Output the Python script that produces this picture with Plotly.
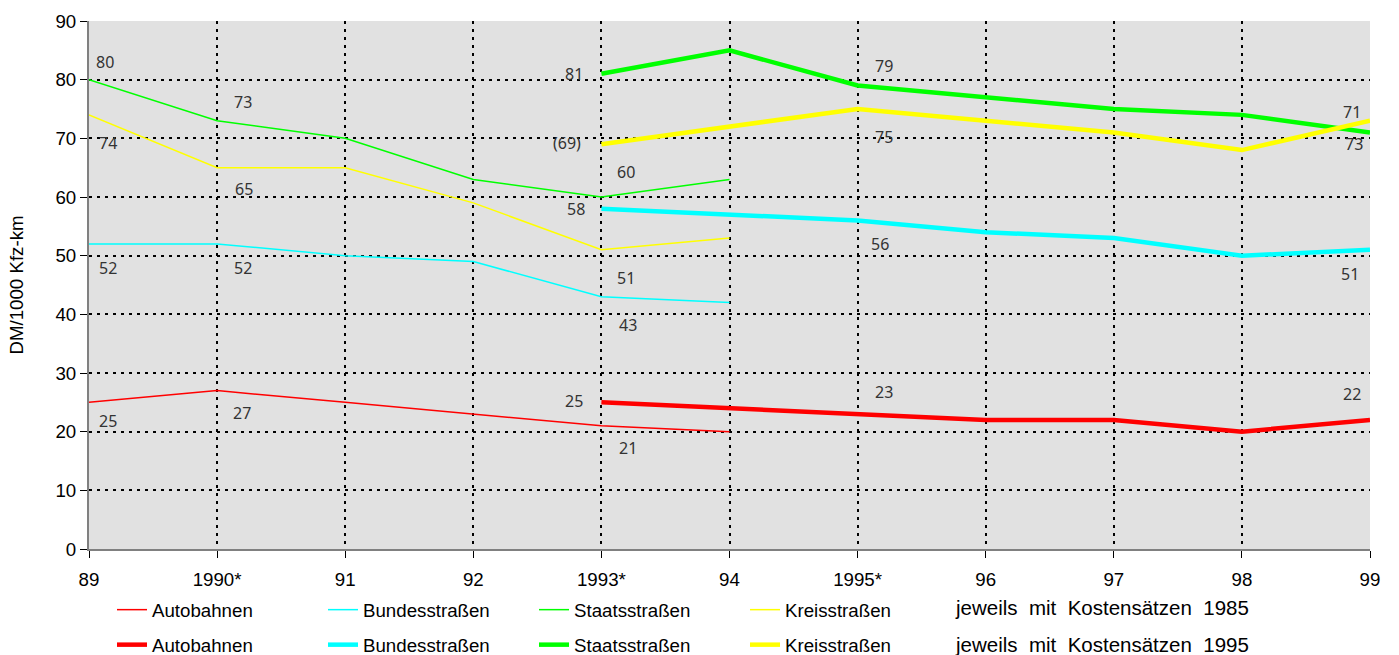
import plotly.graph_objects as go

# Year categories on the x axis
years = ["89", "1990*", "91", "92", "1993*", "94", "1995*", "96", "97", "98", "99"]
years_1985 = years[:6]   # series with cost rates of 1985
years_1995 = years[4:]   # series with cost rates of 1995

# DM per 1000 vehicle-km, cost rates 1985
autobahnen_1985 = [25, 27, 25, 23, 21, 20]
bundesstrassen_1985 = [52, 52, 50, 49, 43, 42]
staatsstrassen_1985 = [80, 73, 70, 63, 60, 63]
kreisstrassen_1985 = [74, 65, 65, 59, 51, 53]

# DM per 1000 vehicle-km, cost rates 1995
autobahnen_1995 = [25, 24, 23, 22, 22, 20, 22]
bundesstrassen_1995 = [58, 57, 56, 54, 53, 50, 51]
staatsstrassen_1995 = [81, 85, 79, 77, 75, 74, 71]
kreisstrassen_1995 = [69, 72, 75, 73, 71, 68, 73]

road_types = ["Autobahnen", "Bundesstraßen", "Staatsstraßen", "Kreisstraßen"]
colors = ["#FF0000", "#00FFFF", "#00FF00", "#FFFF00"]

series_1985 = [autobahnen_1985, bundesstrassen_1985, staatsstrassen_1985, kreisstrassen_1985]
series_1995 = [autobahnen_1995, bundesstrassen_1995, staatsstrassen_1995, kreisstrassen_1995]

AXIS_FONT = dict(family="Liberation Sans, Arial, sans-serif", size=18.7, color="#000000")
NOTE_FONT = dict(family="Liberation Sans, Arial, sans-serif", size=20.5, color="#000000")
LABEL_FONT = dict(family="Noto Sans, sans-serif", size=16, color="#333333")

fig = go.Figure()

for name, color, vals in zip(road_types, colors, series_1985):
    fig.add_trace(go.Scatter(
        x=years_1985, y=vals, name=name, mode="lines",
        line=dict(color=color, width=1.5), legend="legend",
    ))

for name, color, vals in zip(road_types, colors, series_1995):
    fig.add_trace(go.Scatter(
        x=years_1995, y=vals, name=name, mode="lines",
        line=dict(color=color, width=4.5), legend="legend2",
    ))

# Value labels: (rate set, road index, point index, anchor, dx, dy, fmt)
value_labels = [
    ("1985", 2, 0, "left", 5, 18, "{}"),
    ("1985", 3, 0, "left", 8, -28, "{}"),
    ("1985", 2, 1, "left", 15, 19, "{}"),
    ("1985", 3, 1, "left", 16, -21, "{}"),
    ("1985", 1, 0, "left", 8, -24, "{}"),
    ("1985", 1, 1, "left", 15, -24, "{}"),
    ("1985", 0, 0, "left", 8, -19, "{}"),
    ("1985", 0, 1, "left", 14, -22, "{}"),
    ("1985", 2, 4, "left", 14, 25, "{}"),
    ("1985", 3, 4, "left", 14, -28, "{}"),
    ("1985", 1, 4, "left", 16, -28, "{}"),
    ("1985", 0, 4, "left", 16, -22, "{}"),
    ("1995", 2, 0, "right", -16, 0, "{}"),
    ("1995", 3, 0, "right", -18, 1, "({})"),
    ("1995", 1, 0, "right", -14, 0, "{}"),
    ("1995", 0, 0, "right", -16, 1, "{}"),
    ("1995", 2, 2, "left", 15, 20, "{}"),
    ("1995", 3, 2, "left", 15, -28, "{}"),
    ("1995", 1, 2, "left", 11, -24, "{}"),
    ("1995", 0, 2, "left", 15, 22, "{}"),
    ("1995", 2, 6, "right", -7, 20, "{}"),
    ("1995", 3, 6, "right", -5, -23, "{}"),
    ("1995", 1, 6, "right", -9, -24, "{}"),
    ("1995", 0, 6, "right", -7, 26, "{}"),
]

for rates, road, idx, anchor, dx, dy, fmt in value_labels:
    xs, data = (years_1985, series_1985) if rates == "1985" else (years_1995, series_1995)
    val = data[road][idx]
    fig.add_annotation(
        # category position given as its index, so "89"/"99" are not read as numbers
        x=years.index(xs[idx]), y=val, text=fmt.format(val), showarrow=False,
        xanchor=anchor, yanchor="middle", xshift=dx, yshift=dy,
        font=LABEL_FONT,
    )

# Notes next to the two legend rows
GAP = "\u00a0" * 2
for note, ypix in [("1985", 607), ("1995", 644)]:
    fig.add_annotation(
        xref="paper", yref="paper",
        x=(953 - 89) / 1281, y=(549 - ypix) / 528,
        text=GAP.join(["jeweils", "mit", "Kostensätzen", note]),
        showarrow=False, xanchor="left", yanchor="middle", font=NOTE_FONT,
    )

legend_common = dict(
    orientation="h", xref="container", yref="container",
    xanchor="left", yanchor="middle",
    entrywidth=166, entrywidthmode="pixels",
    font=AXIS_FONT, bgcolor="rgba(0,0,0,0)", traceorder="normal",
)

fig.update_layout(
    width=1399, height=655,
    margin=dict(l=89, r=29, t=21, b=106, autoexpand=False),
    paper_bgcolor="#FFFFFF", plot_bgcolor="#E1E1E1",
    showlegend=True,
    legend=dict(x=112 / 1399, y=1 - 610 / 655, **legend_common),
    legend2=dict(x=112 / 1399, y=1 - 645 / 655, **legend_common),
    xaxis=dict(
        type="category", categoryorder="array", categoryarray=years,
        range=[0, 10], tickfont=AXIS_FONT, ticklabelstandoff=6, automargin=False,
        showgrid=True, gridcolor="#000000", gridwidth=2, griddash="3px,5px",
        showline=True, linecolor="#808080", linewidth=2,
        ticks="outside", ticklen=7, tickcolor="#000000", tickwidth=1,
        zeroline=False,
    ),
    yaxis=dict(
        range=[0, 90], dtick=10, tickfont=AXIS_FONT, automargin=False,
        showgrid=True, gridcolor="#000000", gridwidth=2, griddash="3px,5px",
        showline=True, linecolor="#808080", linewidth=2,
        ticks="outside", ticklen=7, tickcolor="#000000", tickwidth=1,
        zeroline=False,
        title=dict(text="DM/1000 Kfz-km", font=AXIS_FONT, standoff=27),
    ),
)

fig.write_html("out.html")
